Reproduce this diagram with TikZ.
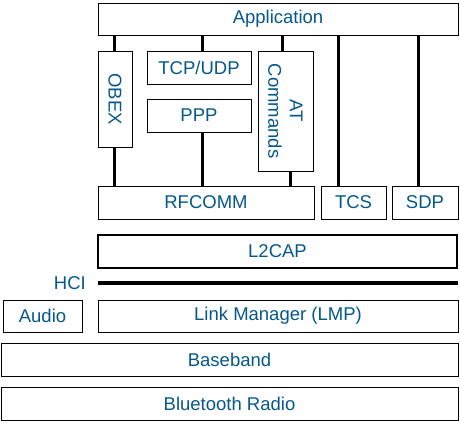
\documentclass[tikz,border=0pt]{standalone}
\usepackage{fontspec}
\setmainfont{Liberation Sans}
\definecolor{txtblue}{HTML}{05588A}
\begin{document}
\begin{tikzpicture}[x=1pt,y=-1pt,
  box/.style={draw=black, line width=1pt, inner sep=0pt, text=txtblue,
    font=\fontsize{18.5}{21.5}\selectfont, align=center},
  thickbox/.style={box, line width=2pt},
  conn/.style={draw=black, line width=3pt},
  hciline/.style={draw=black, line width=4.5pt},
  lbl/.style={inner sep=0pt, text=txtblue, font=\fontsize{18.5}{21.5}\selectfont}]
\useasboundingbox (0,0) rectangle (460,426);
% boxes
\node[box, minimum width=360pt, minimum height=32pt] (app) at (278,19) {Application};
\node[box, rotate=-90, minimum width=96pt, minimum height=34pt] (obex) at (115,99) {OBEX};
\node[box, minimum width=104pt, minimum height=33pt] (tcp) at (199,67.5) {TCP/UDP};
\node[box, minimum width=104pt, minimum height=33pt] (ppp) at (199,115.5) {PPP};
\node[box, rotate=-90, minimum width=120pt, minimum height=55pt] (at) at (285.5,111) {AT\\Commands};
\node[box, minimum width=216pt, minimum height=33pt] (rfcomm) at (206,202.5) {RFCOMM};
\node[box, minimum width=65pt, minimum height=33pt] (tcs) at (353.5,202.5) {TCS};
\node[box, minimum width=66pt, minimum height=33pt] (sdp) at (425,202.5) {SDP};
\node[thickbox, minimum width=359pt, minimum height=33pt] (l2cap) at (277.5,251.5) {L2CAP};
\node[lbl, anchor=east] (hci) at (86,283) {HCI};
\node[box, minimum width=79pt, minimum height=32pt] (audio) at (42.5,316) {Audio};
\node[box, minimum width=360pt, minimum height=32pt] (lmp) at (278,316) {Link Manager (LMP)};
\node[box, minimum width=457pt, minimum height=33pt] (bb) at (229.5,359.5) {Baseband};
\node[box, minimum width=457pt, minimum height=33pt] (radio) at (229.5,403.5) {Bluetooth Radio};
% connector x positions
\coordinate (c1) at (114,0);
\coordinate (c2) at (202,0);
\coordinate (c3) at (282,0);
\coordinate (c4) at (290,0);
\coordinate (c5) at (338,0);
\coordinate (c6) at (418,0);
\coordinate (hcia) at (98,283);
\coordinate (hcib) at (458,283);
% connectors
\draw[conn] (app.south -| c1) -- (obex.west -| c1);
\draw[conn] (obex.east -| c1) -- (rfcomm.north -| c1);
\draw[conn] (app.south -| c2) -- (tcp.north -| c2);
\draw[conn] (ppp.south -| c2) -- (rfcomm.north -| c2);
\draw[conn] (app.south -| c3) -- (at.west -| c3);
\draw[conn] (at.east -| c4) -- (rfcomm.north -| c4);
\draw[conn] (app.south -| c5) -- (tcs.north -| c5);
\draw[conn] (app.south -| c6) -- (sdp.north -| c6);
\draw[hciline] (hcia) -- (hcib);
\end{tikzpicture}
\end{document}
